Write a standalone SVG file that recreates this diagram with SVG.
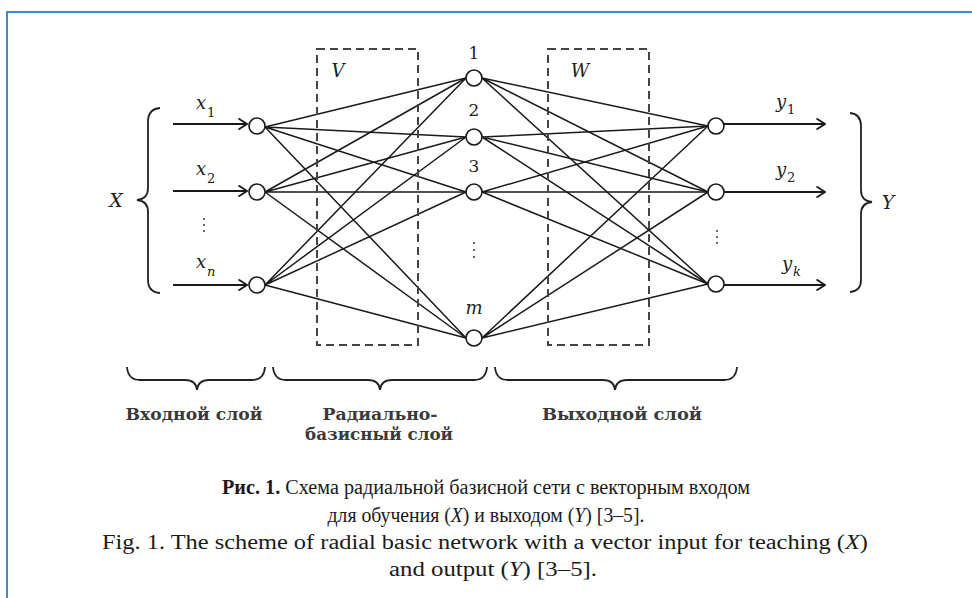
<svg xmlns="http://www.w3.org/2000/svg" width="972" height="598" viewBox="0 0 972 598">
<defs>
<style>
.frame{fill:none;stroke:#3a8fd0;stroke-width:2}
.edge{stroke:#1a1a1a;stroke-width:1.5;fill:none}
.arrow{stroke:#1a1a1a;stroke-width:1.8;fill:none;marker-end:url(#chev)}
.node{fill:#fff;stroke:#1a1a1a;stroke-width:1.6}
.box{fill:none;stroke:#444;stroke-width:2;stroke-dasharray:8,5}
.brace{fill:none;stroke:#222;stroke-width:1.8}
.it{font-family:"DejaVu Serif","Liberation Serif",serif;font-style:italic;fill:#222}
.num{font-family:"DejaVu Serif","Liberation Serif",serif;fill:#222}
.lab{font-family:"DejaVu Serif","Liberation Serif",serif;font-size:16px;font-weight:bold;fill:#3a3a3a;text-anchor:middle}
.cap{font-family:"Liberation Serif",serif;fill:#1a1a1a;text-anchor:middle;font-size:20px}
.dots{fill:#333}
</style>
<marker id="chev" viewBox="0 0 10 12" refX="9.5" refY="6" markerWidth="10" markerHeight="12" markerUnits="userSpaceOnUse" orient="auto">
<path d="M1,0.5 L9.5,6 L1,11.5" fill="none" stroke="#1a1a1a" stroke-width="1.8"/>
</marker>
</defs>
<rect width="972" height="598" fill="#fff"/>
<path class="frame" d="M7,598 L7,12 L972,12"/>

<g id="connectors">
<path class="edge" d="M265,127 L466,78 M265,127 L466,137 M265,127 L466,192 M265,127 L466,338"/>
<path class="edge" d="M265,192 L466,78 M265,192 L466,137 M265,192 L466,192 M265,192 L466,338"/>
<path class="edge" d="M265,285 L466,78 M265,285 L466,137 M265,285 L466,192 M265,285 L466,338"/>
<path class="edge" d="M482,78 L708,126 M482,78 L708,192 M482,78 L708,284"/>
<path class="edge" d="M482,137 L708,126 M482,137 L708,192 M482,137 L708,284"/>
<path class="edge" d="M482,192 L708,126 M482,192 L708,192 M482,192 L708,284"/>
<path class="edge" d="M482,338 L708,126 M482,338 L708,192 M482,338 L708,284"/>
<line class="arrow" x1="173" y1="124" x2="247" y2="124"/>
<line class="arrow" x1="173" y1="191" x2="247" y2="191"/>
<line class="arrow" x1="173" y1="285" x2="247" y2="285"/>
<line class="arrow" x1="724" y1="124" x2="825" y2="124"/>
<line class="arrow" x1="724" y1="192" x2="825" y2="192"/>
<line class="arrow" x1="724" y1="285" x2="825" y2="285"/>
</g>

<g id="V-box"><rect class="box" x="317" y="49" width="101" height="296"/><text class="it" x="338" y="77" font-size="18" text-anchor="middle">V</text></g>
<g id="W-box"><rect class="box" x="548" y="49" width="101" height="296"/><text class="it" x="580" y="77" font-size="18" text-anchor="middle">W</text></g>

<g id="input-1"><circle class="node" cx="257" cy="126" r="8"/><text class="it" x="196" y="109" font-size="18">x</text><text class="num" x="207" y="117" font-size="13">1</text></g>
<g id="input-2"><circle class="node" cx="257" cy="192" r="8"/><text class="it" x="196" y="175" font-size="18">x</text><text class="num" x="207" y="183" font-size="13">2</text></g>
<g id="input-n"><circle class="node" cx="257" cy="285" r="8"/><text class="it" x="196" y="268" font-size="18">x</text><text class="it" x="207" y="276" font-size="13">n</text></g>
<g id="input-dots" class="dots"><circle cx="204" cy="219" r="1"/><circle cx="204" cy="225" r="1"/><circle cx="204" cy="231" r="1"/></g>

<g id="hidden-1"><circle class="node" cx="474" cy="78" r="8"/><text class="num" x="474" y="59" font-size="17" text-anchor="middle">1</text></g>
<g id="hidden-2"><circle class="node" cx="474" cy="137" r="8"/><text class="num" x="474" y="116" font-size="17" text-anchor="middle">2</text></g>
<g id="hidden-3"><circle class="node" cx="474" cy="192" r="8"/><text class="num" x="474" y="172" font-size="17" text-anchor="middle">3</text></g>
<g id="hidden-m"><circle class="node" cx="474" cy="338" r="8"/><text class="it" x="474" y="314" font-size="18" text-anchor="middle">m</text></g>
<g id="hidden-dots" class="dots"><circle cx="474" cy="243" r="1"/><circle cx="474" cy="250" r="1"/><circle cx="474" cy="257" r="1"/></g>

<g id="output-1"><circle class="node" cx="716" cy="126" r="8"/><text class="it" x="776" y="108" font-size="18">y</text><text class="num" x="787" y="114" font-size="13">1</text></g>
<g id="output-2"><circle class="node" cx="716" cy="192" r="8"/><text class="it" x="776" y="176" font-size="18">y</text><text class="num" x="787" y="182" font-size="13">2</text></g>
<g id="output-k"><circle class="node" cx="716" cy="284" r="8"/><text class="it" x="782" y="270" font-size="18">y</text><text class="it" x="793" y="276" font-size="13">k</text></g>
<g id="output-dots" class="dots"><circle cx="717" cy="231" r="1"/><circle cx="717" cy="237" r="1"/><circle cx="717" cy="243" r="1"/></g>

<g id="X-brace"><path class="brace" d="M160,108 Q148,109 148,122 L148,188 Q148,199 137,200 Q148,201 148,212 L148,280 Q148,292 160,293"/><text class="it" x="116" y="207" font-size="19" text-anchor="middle">X</text></g>
<g id="Y-brace"><path class="brace" d="M850,113 Q861,114 861,126 L861,190 Q861,201 872,202 Q861,203 861,214 L861,280 Q861,291 850,292"/><text class="it" x="888" y="209" font-size="19" text-anchor="middle">Y</text></g>

<g id="input-layer"><path class="brace" d="M127,367 Q128,380 140,380 L185,380 Q196,380 197,390 Q198,380 209,380 L252,380 Q264,380 265,367"/><text class="lab" x="194" y="420" textLength="137" lengthAdjust="spacingAndGlyphs">Входной слой</text></g>
<g id="radial-layer"><path class="brace" d="M273,367 Q274,380 286,380 L368,380 Q379,380 380,390 Q381,380 392,380 L474,380 Q486,380 487,367"/><text class="lab" x="380" y="420" textLength="115" lengthAdjust="spacingAndGlyphs">Радиально-</text><text class="lab" x="379" y="440" textLength="148" lengthAdjust="spacingAndGlyphs">базисный слой</text></g>
<g id="output-layer"><path class="brace" d="M495,367 Q496,380 508,380 L603,380 Q614,380 615,390 Q616,380 627,380 L724,380 Q736,380 737,367"/><text class="lab" x="622" y="420" textLength="160" lengthAdjust="spacingAndGlyphs">Выходной  слой</text></g>

<g id="caption">
<text class="cap" x="486" y="494" textLength="528" lengthAdjust="spacingAndGlyphs"><tspan font-weight="bold">Рис. 1.</tspan> Схема радиальной базисной сети с векторным входом</text>
<text class="cap" x="486" y="522" textLength="317" lengthAdjust="spacingAndGlyphs">для обучения (<tspan font-style="italic">X</tspan>) и выходом (<tspan font-style="italic">Y</tspan>) [3–5].</text>
<text class="cap" x="485" y="549" textLength="766" lengthAdjust="spacingAndGlyphs">Fig. 1. The scheme of radial basic network with a vector input for teaching (<tspan font-style="italic">X</tspan>)</text>
<text class="cap" x="493" y="576" textLength="208" lengthAdjust="spacingAndGlyphs">and output (<tspan font-style="italic">Y</tspan>) [3–5].</text>
</g>
</svg>
